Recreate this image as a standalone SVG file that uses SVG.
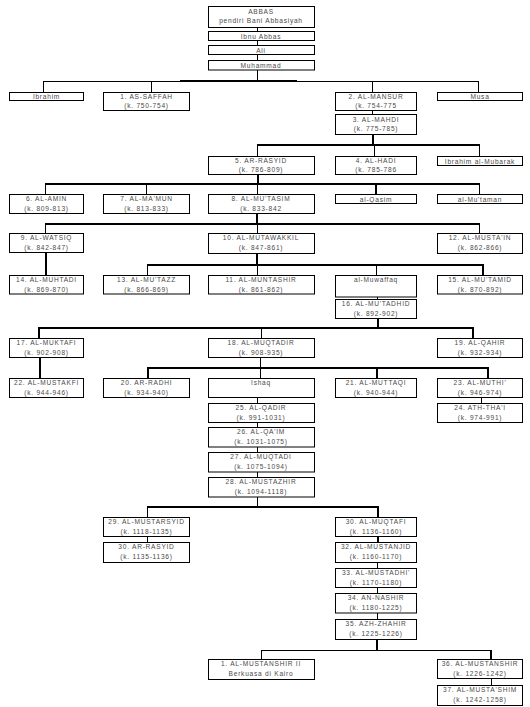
<svg xmlns="http://www.w3.org/2000/svg" width="530" height="707" viewBox="0 0 530 707">
<style>
rect{fill:#fff;stroke:#000;stroke-width:1}
text{font-family:"Liberation Sans",Arial,sans-serif;font-size:6.6px;fill:#4a4a4a;text-anchor:middle;letter-spacing:0.75px}
.c line{stroke:#000;stroke-width:1}
.c .t{stroke-width:2}
</style>
<rect x="0" y="0" width="530" height="707" style="stroke:none"/>
<g class="c" id="connectors">
<line x1="257.5" y1="27" x2="257.5" y2="31"/>
<line x1="257.5" y1="40" x2="257.5" y2="45"/>
<line x1="257.5" y1="54" x2="257.5" y2="60"/>
<line x1="257.5" y1="70" x2="257.5" y2="81"/>
<line x1="43" y1="81.5" x2="478" y2="81.5"/>
<line class="t" x1="180" y1="81" x2="297" y2="81"/>
<line x1="43.5" y1="81" x2="43.5" y2="92"/>
<line x1="151.5" y1="81" x2="151.5" y2="92"/>
<line x1="372.5" y1="81" x2="372.5" y2="92"/>
<line x1="478.5" y1="81" x2="478.5" y2="92"/>
<line x1="372.5" y1="110" x2="372.5" y2="114"/>
<line class="t" x1="373" y1="135" x2="373" y2="145"/>
<line class="t" x1="257" y1="145" x2="480" y2="145"/>
<line x1="257.5" y1="145" x2="257.5" y2="156"/>
<line x1="374.5" y1="145" x2="374.5" y2="156"/>
<line x1="479.5" y1="145" x2="479.5" y2="156"/>
<line class="t" x1="258" y1="174" x2="258" y2="184"/>
<line class="t" x1="45" y1="184" x2="480" y2="184"/>
<line x1="45.5" y1="184" x2="45.5" y2="194"/>
<line x1="146.5" y1="184" x2="146.5" y2="194"/>
<line x1="257.5" y1="184" x2="257.5" y2="194"/>
<line class="t" x1="376" y1="184" x2="376" y2="194"/>
<line x1="479.5" y1="184" x2="479.5" y2="194"/>
<line class="t" x1="257" y1="213" x2="257" y2="224"/>
<line class="t" x1="45" y1="224" x2="480" y2="224"/>
<line x1="45.5" y1="224" x2="45.5" y2="233"/>
<line x1="257.5" y1="224" x2="257.5" y2="233"/>
<line x1="479.5" y1="224" x2="479.5" y2="233"/>
<line class="t" x1="46" y1="253" x2="46" y2="275"/>
<line class="t" x1="257" y1="253" x2="257" y2="265"/>
<line class="t" x1="147" y1="265" x2="484" y2="265"/>
<line x1="147.5" y1="265" x2="147.5" y2="275"/>
<line x1="257.5" y1="265" x2="257.5" y2="275"/>
<line x1="376.5" y1="265" x2="376.5" y2="275"/>
<line class="t" x1="483" y1="265" x2="483" y2="275"/>
<line x1="377.5" y1="297" x2="377.5" y2="300"/>
<line class="t" x1="378" y1="319" x2="378" y2="328"/>
<line class="t" x1="38" y1="328" x2="474" y2="328"/>
<line class="t" x1="39" y1="328" x2="39" y2="338"/>
<line x1="261.5" y1="328" x2="261.5" y2="338"/>
<line class="t" x1="473" y1="328" x2="473" y2="338"/>
<line class="t" x1="40" y1="358" x2="40" y2="378"/>
<line x1="260.5" y1="358" x2="260.5" y2="368"/>
<line class="t" x1="147" y1="368" x2="489" y2="368"/>
<line class="t" x1="148" y1="368" x2="148" y2="378"/>
<line x1="260.5" y1="368" x2="260.5" y2="378"/>
<line class="t" x1="377" y1="368" x2="377" y2="378"/>
<line class="t" x1="488" y1="368" x2="488" y2="378"/>
<line x1="481.5" y1="397" x2="481.5" y2="403"/>
<line x1="257.5" y1="397" x2="257.5" y2="403"/>
<line x1="257.5" y1="422" x2="257.5" y2="427"/>
<line x1="257.5" y1="447" x2="257.5" y2="452"/>
<line x1="257.5" y1="472" x2="257.5" y2="477"/>
<line x1="257.5" y1="497" x2="257.5" y2="507"/>
<line class="t" x1="147" y1="507" x2="379" y2="507"/>
<line x1="147.5" y1="507" x2="147.5" y2="517"/>
<line class="t" x1="378" y1="507" x2="378" y2="517"/>
<line x1="147.5" y1="536" x2="147.5" y2="542"/>
<line class="t" x1="378" y1="536" x2="378" y2="542"/>
<line x1="377.5" y1="562" x2="377.5" y2="568"/>
<line x1="377.5" y1="587" x2="377.5" y2="593"/>
<line x1="377.5" y1="612" x2="377.5" y2="619"/>
<line class="t" x1="377" y1="639" x2="377" y2="650"/>
<line x1="261" y1="650.5" x2="492" y2="650.5"/>
<line x1="261.5" y1="650" x2="261.5" y2="659"/>
<line class="t" x1="491" y1="650" x2="491" y2="659"/>
<line x1="491.5" y1="678" x2="491.5" y2="685"/>
</g>
<g id="n-abbas"><rect x="208.5" y="6.5" width="106" height="21"/><text x="261" y="14">ABBAS</text><text x="261" y="23">pendiri Bani Abbasiyah</text></g>
<g id="n-ibnu-abbas"><rect x="208.5" y="31.5" width="106" height="9"/><text x="261" y="38.5">Ibnu Abbas</text></g>
<g id="n-ali"><rect x="208.5" y="45.5" width="106" height="9"/><text x="261" y="52.5">Ali</text></g>
<g id="n-muhammad"><rect x="208.5" y="60.5" width="106" height="9.5"/><text x="261" y="67.5">Muhammad</text></g>
<g id="n-ibrahim"><rect x="9.5" y="92.5" width="74" height="8"/><text x="46.5" y="99">Ibrahim</text></g>
<g id="n-saffah"><rect x="103.5" y="92.5" width="86" height="18"/><text x="146.5" y="99">1. AS-SAFFAH</text><text x="146.5" y="108">(k. 750-754)</text></g>
<g id="n-mansur"><rect x="335.5" y="92.5" width="81" height="18"/><text x="376" y="99">2. AL-MANSUR</text><text x="376" y="108">(k. 754-775</text></g>
<g id="n-musa"><rect x="437.5" y="92.5" width="85" height="8"/><text x="480" y="99">Musa</text></g>
<g id="n-mahdi"><rect x="335.5" y="114.5" width="81" height="20"/><text x="376" y="121.5">3. AL-MAHDI</text><text x="376" y="131">(k. 775-785)</text></g>
<g id="n-rasyid"><rect x="208.5" y="156.5" width="106" height="18"/><text x="261" y="163">5. AR-RASYID</text><text x="261" y="172">(k. 786-809)</text></g>
<g id="n-hadi"><rect x="335.5" y="156.5" width="81" height="18"/><text x="376" y="163">4. AL-HADI</text><text x="376" y="172">(k. 785-786</text></g>
<g id="n-ibrahim-mubarak"><rect x="437.5" y="156.5" width="85" height="9"/><text x="480" y="163.5">Ibrahim al-Mubarak</text></g>
<g id="n-amin"><rect x="9.5" y="194.5" width="74" height="19"/><text x="46.5" y="201">6. AL-AMIN</text><text x="46.5" y="210.5">(k. 809-813)</text></g>
<g id="n-mamun"><rect x="103.5" y="194.5" width="86" height="19"/><text x="146.5" y="201">7. AL-MA'MUN</text><text x="146.5" y="210.5">(k. 813-833)</text></g>
<g id="n-mutasim"><rect x="208.5" y="194.5" width="106" height="19"/><text x="261" y="201">8. AL-MU'TASIM</text><text x="261" y="210.5">(k. 833-842</text></g>
<g id="n-qasim"><rect x="335.5" y="194.5" width="81" height="9"/><text x="376" y="201.5">al-Qasim</text></g>
<g id="n-mutaman"><rect x="437.5" y="194.5" width="85" height="9"/><text x="480" y="201.5">al-Mu'taman</text></g>
<g id="n-watsiq"><rect x="9.5" y="233.5" width="74" height="19"/><text x="46.5" y="240">9. AL-WATSIQ</text><text x="46.5" y="249.5">(k. 842-847)</text></g>
<g id="n-mutawakkil"><rect x="208.5" y="233.5" width="106" height="20"/><text x="261" y="240">10. AL-MUTAWAKKIL</text><text x="261" y="249.5">(k. 847-861)</text></g>
<g id="n-mustain"><rect x="437.5" y="233.5" width="85" height="20"/><text x="480" y="240">12. AL-MUSTA'IN</text><text x="480" y="249.5">(k. 862-866)</text></g>
<g id="n-muhtadi"><rect x="9.5" y="275.5" width="74" height="18.5"/><text x="46.5" y="282">14. AL-MUHTADI</text><text x="46.5" y="291.5">(k. 869-870)</text></g>
<g id="n-mutazz"><rect x="103.5" y="275.5" width="86" height="18.5"/><text x="146.5" y="282">13. AL-MU'TAZZ</text><text x="146.5" y="291.5">(k. 866-869)</text></g>
<g id="n-muntashir"><rect x="208.5" y="275.5" width="106" height="18.5"/><text x="261" y="282">11. AL-MUNTASHIR</text><text x="261" y="291.5">(k. 861-862)</text></g>
<g id="n-muwaffaq"><rect x="335.5" y="275.5" width="81" height="21.5"/><text x="376" y="282">al-Muwaffaq</text></g>
<g id="n-mutamid"><rect x="437.5" y="275.5" width="85" height="18.5"/><text x="480" y="282">15. AL-MU'TAMID</text><text x="480" y="291.5">(k. 870-892)</text></g>
<g id="n-mutadhid"><rect x="335.5" y="299.5" width="81" height="19"/><text x="376" y="306">16. AL-MU'TADHID</text><text x="376" y="315.5">(k. 892-902)</text></g>
<g id="n-muktafi"><rect x="9.5" y="338.5" width="74" height="19"/><text x="46.5" y="345">17. AL-MUKTAFI</text><text x="46.5" y="354.5">(k. 902-908)</text></g>
<g id="n-muqtadir"><rect x="208.5" y="338.5" width="106" height="19"/><text x="261" y="345">18. AL-MUQTADIR</text><text x="261" y="354.5">(k. 908-935)</text></g>
<g id="n-qahir"><rect x="437.5" y="338.5" width="85" height="19"/><text x="480" y="345">19. AL-QAHIR</text><text x="480" y="354.5">(k. 932-934)</text></g>
<g id="n-mustakfi"><rect x="9.5" y="378.5" width="74" height="19"/><text x="46.5" y="385">22. AL-MUSTAKFI</text><text x="46.5" y="394.5">(k. 944-946)</text></g>
<g id="n-radhi"><rect x="103.5" y="378.5" width="86" height="19"/><text x="146.5" y="385">20. AR-RADHI</text><text x="146.5" y="394.5">(k. 934-940)</text></g>
<g id="n-ishaq"><rect x="208.5" y="378.5" width="106" height="19"/><text x="261" y="385">Ishaq</text></g>
<g id="n-muttaqi"><rect x="335.5" y="378.5" width="81" height="19"/><text x="376" y="385">21. AL-MUTTAQI</text><text x="376" y="394.5">(k. 940-944)</text></g>
<g id="n-muthi"><rect x="437.5" y="378.5" width="85" height="19"/><text x="480" y="385">23. AL-MUTHI'</text><text x="480" y="394.5">(k. 946-974)</text></g>
<g id="n-qadir"><rect x="208.5" y="403.5" width="106" height="19"/><text x="261" y="410">25. AL-QADIR</text><text x="261" y="419.5">(k. 991-1031)</text></g>
<g id="n-thai"><rect x="437.5" y="403.5" width="85" height="19"/><text x="480" y="410">24. ATH-THA'I</text><text x="480" y="419.5">(k. 974-991)</text></g>
<g id="n-qaim"><rect x="208.5" y="427.5" width="106" height="19.5"/><text x="261" y="434">26. AL-QA'IM</text><text x="261" y="443.5">(k. 1031-1075)</text></g>
<g id="n-muqtadi"><rect x="208.5" y="452.5" width="106" height="19.5"/><text x="261" y="459">27. AL-MUQTADI</text><text x="261" y="468.5">(k. 1075-1094)</text></g>
<g id="n-mustazhir"><rect x="208.5" y="477.5" width="106" height="19.5"/><text x="261" y="484">28. AL-MUSTAZHIR</text><text x="261" y="493.5">(k. 1094-1118)</text></g>
<g id="n-mustarsyid"><rect x="103.5" y="517.5" width="86" height="19"/><text x="146.5" y="524">29. AL-MUSTARSYID</text><text x="146.5" y="533.5">(k. 1118-1135)</text></g>
<g id="n-muqtafi"><rect x="335.5" y="517.5" width="81" height="19"/><text x="376" y="524">30. AL-MUQTAFI</text><text x="376" y="533.5">(k. 1136-1160)</text></g>
<g id="n-ar-rasyid"><rect x="103.5" y="542.5" width="86" height="20"/><text x="146.5" y="549">30. AR-RASYID</text><text x="146.5" y="558.5">(k. 1135-1136)</text></g>
<g id="n-mustanjid"><rect x="335.5" y="542.5" width="81" height="20"/><text x="376" y="549">32. AL-MUSTANJID</text><text x="376" y="558.5">(k. 1160-1170)</text></g>
<g id="n-mustadhi"><rect x="335.5" y="568.5" width="81" height="19"/><text x="376" y="575">33. AL-MUSTADHI'</text><text x="376" y="584.5">(k. 1170-1180)</text></g>
<g id="n-nashir"><rect x="335.5" y="593.5" width="81" height="19.5"/><text x="376" y="600">34. AN-NASHIR</text><text x="376" y="609.5">(k. 1180-1225)</text></g>
<g id="n-zhahir"><rect x="335.5" y="619.5" width="81" height="20"/><text x="376" y="626">35. AZH-ZHAHIR</text><text x="376" y="635.5">(k. 1225-1226)</text></g>
<g id="n-mustanshir-2"><rect x="208.5" y="659.5" width="106" height="20"/><text x="261" y="666">1. AL-MUSTANSHIR II</text><text x="261" y="675.5">Berkuasa di Kairo</text></g>
<g id="n-mustanshir"><rect x="437.5" y="659.5" width="85" height="19"/><text x="480" y="666">36. AL-MUSTANSHIR</text><text x="480" y="675.5">(k. 1226-1242)</text></g>
<g id="n-mustashim"><rect x="437.5" y="685.5" width="85" height="20"/><text x="480" y="692">37. AL-MUSTA'SHIM</text><text x="480" y="701.5">(k. 1242-1258)</text></g>
</svg>
